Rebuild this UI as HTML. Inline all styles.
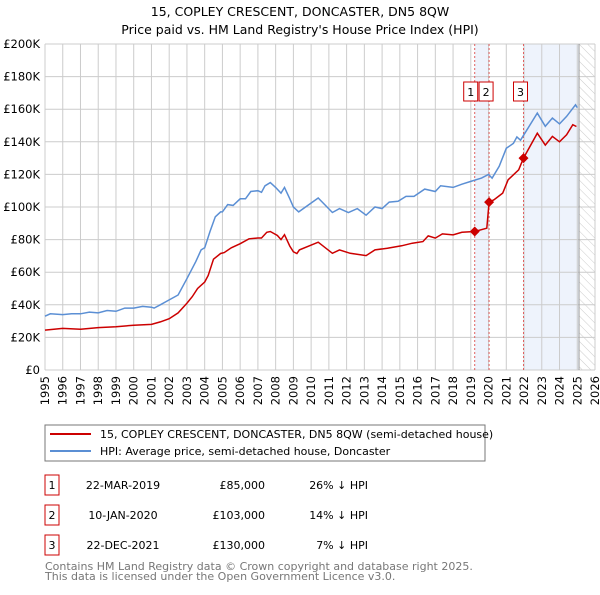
<!DOCTYPE html>
<html><head><meta charset="utf-8"><style>
body{margin:0;background:#fff;}
svg text{font-family:"DejaVu Sans","Liberation Sans",sans-serif;}
</style></head><body>
<svg id="chart" width="600" height="590" xmlns="http://www.w3.org/2000/svg">
<defs><pattern id="hatch" width="6" height="6" patternUnits="userSpaceOnUse" patternTransform="rotate(-45)"><line x1="0" y1="0" x2="0" y2="6" stroke="#ccc" stroke-width="1"/></pattern></defs>
<text x="300" y="16" text-anchor="middle" font-size="12.5">15, COPLEY CRESCENT, DONCASTER, DN5 8QW</text>
<text x="300" y="34" text-anchor="middle" font-size="12.5">Price paid vs. HM Land Registry's House Price Index (HPI)</text>
<g id="grid"></g>
<g id="marks"></g>
<g id="axes"></g>
<rect x="45" y="425" width="440" height="36" fill="#fff" stroke="#777"/>
<line x1="50" y1="434" x2="91" y2="434" stroke="#cc0000" stroke-width="2"/>
<text x="100" y="438" font-size="11">15, COPLEY CRESCENT, DONCASTER, DN5 8QW (semi-detached house)</text>
<line x1="50" y1="451" x2="91" y2="451" stroke="#5b8fd4" stroke-width="2"/>
<text x="100" y="455" font-size="11">HPI: Average price, semi-detached house, Doncaster</text>
<g id="table"></g>
<text x="45" y="570" font-size="11" fill="#777">Contains HM Land Registry data © Crown copyright and database right 2025.</text>
<text x="45" y="580" font-size="11" fill="#777">This data is licensed under the Open Government Licence v3.0.</text>
</svg>
<script>
const yTicks=[0,20,40,60,80,100,120,140,160,180,200];
const years=[1995,1996,1997,1998,1999,2000,2001,2002,2003,2004,2005,2006,2007,2008,2009,2010,2011,2012,2013,2014,2015,2016,2017,2018,2019,2020,2021,2022,2023,2024,2025,2026];
const hpiDates=[1995,1995.3,1996,1996.5,1997,1997.5,1998,1998.5,1999,1999.5,2000,2000.5,2001,2001.15,2001.5,2002,2002.5,2003,2003.5,2003.8,2004,2004.3,2004.6,2004.9,2005,2005.3,2005.6,2006,2006.3,2006.6,2007,2007.2,2007.4,2007.7,2008,2008.3,2008.5,2008.8,2009,2009.3,2010.4,2011.2,2011.6,2012.1,2012.6,2013.1,2013.6,2014,2014.4,2014.9,2015.35,2015.8,2016.4,2017,2017.3,2018,2018.5,2019,2019.6,2020,2020.2,2020.6,2021,2021.4,2021.6,2021.8,2022.2,2022.75,2023.2,2023.6,2024,2024.4,2024.9,2025.0];
const hpiValues=[33,34.5,34,34.5,34.5,35.5,35,36.5,36,38,38,39,38.5,38,40,43,46,56,66.5,73.7,75,85,94,97,97,101.5,101,105,105,109.5,110,109,113,115,112,108.5,112,105,100,97,105.5,96.6,99,96.6,99,95,100,99,103,103.5,106.5,106.5,111,109.5,113,112,114,115.7,117.7,120,117.7,125,136,139,143,141,148,157.6,149.5,154.6,151,155.6,162.7,161];
const priceDates=[1995,1996,1997,1998,1999,2000,2001,2001.5,2002,2002.5,2003,2003.3,2003.6,2004,2004.2,2004.5,2004.9,2005.1,2005.5,2006,2006.5,2007,2007.2,2007.5,2007.7,2008.1,2008.3,2008.5,2008.8,2009,2009.2,2009.34,2010.4,2011.2,2011.6,2012.2,2013.1,2013.6,2014.3,2015.1,2015.7,2016.3,2016.6,2017,2017.4,2018,2018.5,2019.22,2019.9,2020.03,2020.3,2020.8,2021.1,2021.7,2021.97,2022.75,2023.2,2023.6,2024,2024.4,2024.75,2024.95];
const priceValues=[24.5,25.5,25,26,26.5,27.5,28,29.5,31.5,35,41,45,50,54,58,68,71.5,72,75,77.5,80.5,81,81,84.5,85,82.5,80,83,76,72.5,71.5,73.7,78.4,71.6,73.7,71.6,70.2,73.7,74.7,76.2,77.8,78.8,82.3,80.9,83.5,82.9,84.5,85,87,103,104.4,108.5,116.7,122.8,130,145.3,138,143.3,140,144.3,150.5,149.4];
const saleDates=[2019.22,2020.03,2021.97];
const saleValues=[85,103,130];
const saleLabels=["1","2","3"];
const saleDateText=["22-MAR-2019","10-JAN-2020","22-DEC-2021"];
const salePriceText=["£85,000","£103,000","£130,000"];
const saleHpiText=["26% ↓ HPI","14% ↓ HPI","7% ↓ HPI"];
const x0=45,x1=595,y0=370,y1=44;
const X=d=>x0+(d-1995)/(2026-1995)*(x1-x0);
const Y=v=>y0-v/200*(y0-y1);
const NS="http://www.w3.org/2000/svg";
function mk(parent,tag,attrs){const e=document.createElementNS(NS,tag);for(const k in attrs)e.setAttribute(k,attrs[k]);document.getElementById(parent).appendChild(e);return e;}
let e;
e=mk('grid','rect',{x:X(saleDates[0]),y:y1,width:X(saleDates[1])-X(saleDates[0]),height:y0-y1,fill:'#eef3fc'});


e=mk('grid','rect',{x:X(saleDates[2]),y:y1,width:X(2025.1)-X(saleDates[2]),height:y0-y1,fill:'#eef3fc'});


e=mk('grid','rect',{x:X(2025.1),y:y1,width:x1-X(2025.1),height:y0-y1,fill:'url(#hatch)'});


yTicks.forEach(t=>{
 e=mk('grid','line',{x1:x0,x2:x1,y1:Y(t),y2:Y(t),stroke:'#ccc','stroke-width':1});
 
 
 e=mk('axes','text',{x:x0-5,y:Y(t)+4,'text-anchor':'end','font-size':'11.5'});
 e.textContent=t===0?'£0':'£'+t+'K';
 
 
});
years.forEach(yr=>{
 e=mk('grid','line',{x1:X(yr),x2:X(yr),y1:y1,y2:y0,stroke:'#ccc','stroke-width':1});
 
 
 e=mk('axes','text',{x:0,y:0,'text-anchor':'end','font-size':'11.5',transform:`translate(${X(yr)+4},${y0+6}) rotate(-90)`});
 e.textContent=yr;
 
 
});
e=mk('grid','line',{x1:X(2025.1),x2:X(2025.1),y1:y1,y2:y0,stroke:'#999','stroke-width':1});


saleDates.forEach((d,i)=>{
 e=mk('grid','line',{x1:X(d),x2:X(d),y1:y1,y2:y0,stroke:'#e06060','stroke-width':1,'stroke-dasharray':'2,2'});
 
 
});
function pts(ds,vs){return ds.map((d,i)=>X(d).toFixed(1)+','+Y(vs[i]).toFixed(1)).join(' ');}
e=mk('marks','polyline',{points:pts(hpiDates,hpiValues),fill:'none',stroke:'#5b8fd4','stroke-width':1.5});


e=mk('marks','polyline',{points:pts(priceDates,priceValues),fill:'none',stroke:'#cc0000','stroke-width':1.5});


const labelOffsets=[-11,-10,-10];
saleDates.forEach((d,i)=>{
 const cx=X(d),cy=Y(saleValues[i]);
 e=mk('marks','polygon',{points:`${cx},${cy-5} ${cx+5},${cy} ${cx},${cy+5} ${cx-5},${cy}`,fill:'#cc0000'});
 
 
 const lx=i===1?X(d)-10:X(d)+labelOffsets[i];
 e=mk('marks','rect',{x:lx,y:82,width:14,height:19,fill:'#fff',stroke:'#cc0000'});
 
 
 e=mk('marks','text',{x:lx+7,y:96,'text-anchor':'middle','font-size':'11'});
 e.textContent=saleLabels[i];
 
 
 const ry=475+i*30;
 e=mk('table','rect',{x:45,y:ry,width:14,height:20,fill:'#fff',stroke:'#cc0000'});
 
 
 e=mk('table','text',{x:52,y:ry+14,'text-anchor':'middle','font-size':'11'});
 e.textContent=saleLabels[i];
 
 
 e=mk('table','text',{x:123,y:ry+14,'text-anchor':'middle','font-size':'11'});
 e.textContent=saleDateText[i];
 
 
 e=mk('table','text',{x:265,y:ry+14,'text-anchor':'end','font-size':'11'});
 e.textContent=salePriceText[i];
 
 
 e=mk('table','text',{x:368,y:ry+14,'text-anchor':'end','font-size':'11'});
 e.textContent=saleHpiText[i];
 
 
});
</script>
</body></html>
